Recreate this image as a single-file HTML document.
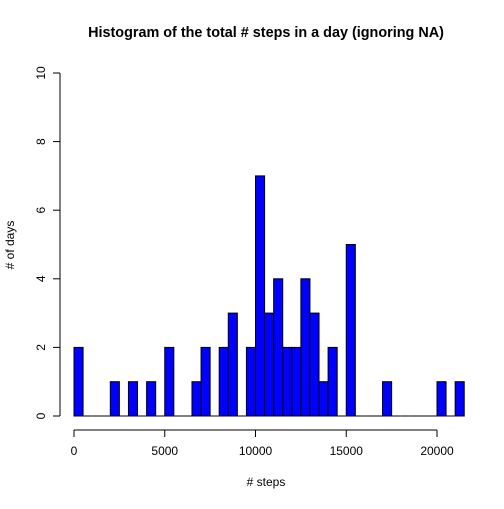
<!DOCTYPE html>
<html><head><meta charset="utf-8"><style>
body{margin:0;background:#fff}
svg text{font-family:"Liberation Sans",Helvetica,sans-serif;fill:#000}
</style></head><body>
<svg id="c" width="504" height="504">
<text x="266" y="37" text-anchor="middle" font-size="14.4" font-weight="bold">Histogram of the total # steps in a day (ignoring NA)</text>
<text x="266" y="486" text-anchor="middle" font-size="12"># steps</text>
<text transform="translate(14,245) rotate(-90)" text-anchor="middle" font-size="12"># of days</text>
<g id="bars"></g><g id="ax"></g>
</svg>
<script>
const binStarts=[0,500,1000,1500,2000,2500,3000,3500,4000,4500,5000,5500,6000,6500,7000,7500,8000,8500,9000,9500,10000,10500,11000,11500,12000,12500,13000,13500,14000,14500,15000,15500,16000,16500,17000,17500,18000,18500,19000,19500,20000,20500,21000];
const counts=[2,0,0,0,1,0,1,0,1,0,2,0,0,1,2,0,2,3,0,2,7,3,4,2,2,4,3,1,2,0,5,0,0,0,1,0,0,0,0,0,1,0,1];
const binWidth=500;
const xTicks=[0,5000,10000,15000,20000];
const yTicks=[0,2,4,6,8,10];
const X=v=>74+v*363/20000, Y=v=>416-v*34.3;
const NS="http://www.w3.org/2000/svg";
const bars=document.getElementById('bars'),ax=document.getElementById('ax');
function mk(tag,attrs,parent){const e=document.createElementNS(NS,tag);for(const k in attrs)e.setAttribute(k,attrs[k]);parent.appendChild(e);return e;}
counts.forEach((c,i)=>{
 const x0=X(binStarts[i]),x1=X(binStarts[i]+binWidth);
 if(c===0){
  const l=mk('line',{x1:x0,x2:x1,y1:Y(0),y2:Y(0),stroke:'#000','stroke-width':1},bars);
  
  
  return;
 }
 const r=mk('rect',{x:x0,y:Y(c),width:x1-x0,height:Y(0)-Y(c),fill:'#0000ff',stroke:'#000','stroke-width':1},bars);
 
 
});
mk('line',{x1:X(0),x2:X(20000),y1:430,y2:430,stroke:'#000'},ax);
xTicks.forEach(t=>{
 mk('line',{x1:X(t),x2:X(t),y1:430,y2:437,stroke:'#000'},ax);
 const tx=mk('text',{x:X(t),y:455,'text-anchor':'middle','font-size':12},ax);tx.textContent=t;
 
 
});
mk('line',{x1:60,x2:60,y1:Y(0),y2:Y(10),stroke:'#000'},ax);
yTicks.forEach(t=>{
 mk('line',{x1:53,x2:60,y1:Y(t),y2:Y(t),stroke:'#000'},ax);
 const tx=mk('text',{transform:`translate(45,${Y(t)}) rotate(-90)`,'text-anchor':'middle','font-size':12},ax);tx.textContent=t;
 
 
});
</script>
</body></html>
